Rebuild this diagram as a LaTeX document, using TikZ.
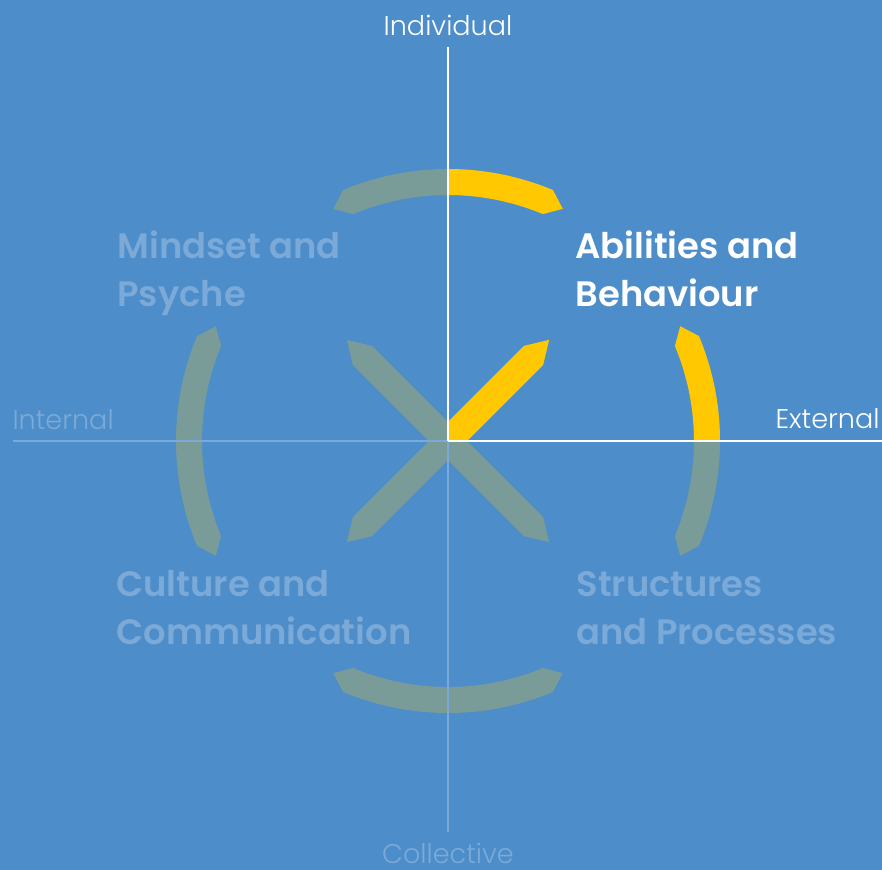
\documentclass[tikz,border=0pt]{standalone}
\usepackage{fontspec}
\setmainfont{Poppins}
\newfontfamily\axisfont{Poppins Light}
\newfontfamily\quadfont{Poppins SemiBold}
\usetikzlibrary{calc}

\definecolor{bgblue}{HTML}{4D8DC9}
\definecolor{sage}{HTML}{7A9C98}
\definecolor{gold}{HTML}{FFC800}
\definecolor{faint}{HTML}{7BAAD8}

\tikzset{every picture/.style={line width=0.75pt}}
\tikzset{
  axislabel/.style={text=white,inner sep=0pt,font=\axisfont\fontsize{20.3}{24}\selectfont},
  quadlabel/.style={text=white,inner sep=0pt,align=left,font=\quadfont\fontsize{26.5}{35.3}\selectfont},
  dim/.style={text=faint},
  axisline/.style={draw=white,line width=1.1pt},
  dimline/.style={draw=faint,line width=1.1pt}
}

% ring segment around (c), centred on angle #1
\newcommand{\ringpart}[2]{%
  \fill[#2] ($(c)+(#1-22.7:272)$) arc[start angle=#1-22.7, end angle=#1+22.7, radius=272]
    -- ($(c)+(#1+26.3:259)$) -- ($(c)+(#1+22.7:246)$)
    arc[start angle=#1+22.7, end angle=#1-22.7, radius=246]
    -- ($(c)+(#1-26.3:259)$) -- cycle;}
% pointed bar through (c) along angle #1
\newcommand{\crossbar}[2]{%
  \fill[#2] ($(c)+(#1:143)$) -- ($(c)+(#1:121)+(#1+90:13.5)$) -- ($(c)+(#1+180:121)+(#1+90:13.5)$)
    -- ($(c)+(#1+180:143)$) -- ($(c)+(#1+180:121)+(#1-90:13.5)$) -- ($(c)+(#1:121)+(#1-90:13.5)$) -- cycle;}

\begin{document}
\begin{tikzpicture}[x=0.75pt,y=0.75pt,yscale=-1,xscale=1]
\useasboundingbox (0,0) rectangle (882,870);
\fill[bgblue] (0,0) rectangle (882,870);

\coordinate (c) at (448,441);
\coordinate (top) at (448,47);
\coordinate (bottom) at (448,832);
\coordinate (left) at (13,441);
\coordinate (right) at (882,441);

% Ring and cross
\foreach \a in {0,90,180,270} {\ringpart{\a}{sage}}
\crossbar{45}{sage}
\crossbar{-45}{sage}

% Highlighted quadrant
\begin{scope}
\clip (c) rectangle (882,0);
\ringpart{0}{gold}
\ringpart{270}{gold}
\crossbar{-45}{gold}
\end{scope}

% Axes
\draw[dimline] (left) -- (c);
\draw[dimline] (c) -- (bottom);
\draw[axisline] (c) -- (right);
\draw[axisline] (top) -- (c);

% Axis labels
\node[axislabel,anchor=base] (individual) at (448,36) {Individual};
\node[axislabel,dim,anchor=base] (collective) at (448,863) {Collective};
\node[axislabel,dim,anchor=base west] (internal) at (12,429) {Internal};
\node[axislabel,anchor=base east] (external) at (880,428) {External};

% Quadrant labels (anchored on the second line)
\node[quadlabel,anchor=base west] (abilities) at (575,306) {Abilities and\\Behaviour};
\node[quadlabel,dim,anchor=base west] (mindset) at (117,306) {Mindset and\\Psyche};
\node[quadlabel,dim,anchor=base west] (culture) at (116,644) {Culture and\\Communication};
\node[quadlabel,dim,anchor=base west] (structures) at (576,644) {Structures\\and Processes};

\end{tikzpicture}
\end{document}
